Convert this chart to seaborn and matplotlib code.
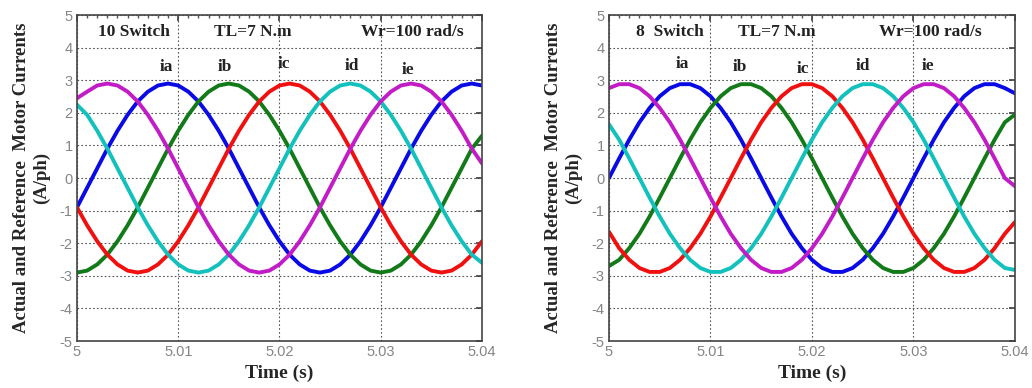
import matplotlib
matplotlib.use("Agg")
import matplotlib.pyplot as plt
import seaborn as sns
import pandas as pd
from matplotlib.ticker import MultipleLocator

# ---------------- data (1 ms samples) ----------------
time = [5.000 + 0.001 * i for i in range(41)]

# 10 switch panel
l_ia = [-0.90, -0.30, 0.30, 0.90, 1.45, 1.94, 2.35, 2.65, 2.84, 2.90, 2.84, 2.65, 2.35, 1.94,
        1.45, 0.90, 0.30, -0.30, -0.90, -1.45, -1.94, -2.35, -2.65, -2.84, -2.90, -2.84, -2.65,
        -2.35, -1.94, -1.45, -0.90, -0.30, 0.30, 0.90, 1.45, 1.94, 2.35, 2.65, 2.84, 2.90, 2.84]
l_ib = [-2.90, -2.84, -2.65, -2.35, -1.94, -1.45, -0.90, -0.30, 0.30, 0.90, 1.45, 1.94, 2.35,
        2.65, 2.84, 2.90, 2.84, 2.65, 2.35, 1.94, 1.45, 0.90, 0.30, -0.30, -0.90, -1.45, -1.94,
        -2.35, -2.65, -2.84, -2.90, -2.84, -2.65, -2.35, -1.94, -1.45, -0.90, -0.30, 0.30, 0.90, 1.30]
l_ic = [-0.90, -1.45, -1.94, -2.35, -2.65, -2.84, -2.90, -2.84, -2.65, -2.35, -1.94, -1.45,
        -0.90, -0.30, 0.30, 0.90, 1.45, 1.94, 2.35, 2.65, 2.84, 2.90, 2.84, 2.65, 2.35, 1.94, 1.45,
        0.90, 0.30, -0.30, -0.90, -1.45, -1.94, -2.35, -2.65, -2.84, -2.90, -2.84, -2.65, -2.35, -1.94]
l_id = [2.25, 1.94, 1.45, 0.90, 0.30, -0.30, -0.90, -1.45, -1.94, -2.35, -2.65, -2.84, -2.90,
        -2.84, -2.65, -2.35, -1.94, -1.45, -0.90, -0.30, 0.30, 0.90, 1.45, 1.94, 2.35, 2.65, 2.84,
        2.90, 2.84, 2.65, 2.35, 1.94, 1.45, 0.90, 0.30, -0.30, -0.90, -1.45, -1.94, -2.35, -2.60]
l_ie = [2.45, 2.65, 2.84, 2.90, 2.84, 2.65, 2.35, 1.94, 1.45, 0.90, 0.30, -0.30, -0.90, -1.45,
        -1.94, -2.35, -2.65, -2.84, -2.90, -2.84, -2.65, -2.35, -1.94, -1.45, -0.90, -0.30, 0.30,
        0.90, 1.45, 1.94, 2.35, 2.65, 2.84, 2.90, 2.84, 2.65, 2.35, 1.94, 1.45, 0.90, 0.45]

# 8 switch panel
r_ia = [0.00, 0.60, 1.18, 1.71, 2.15, 2.51, 2.76, 2.88, 2.88, 2.76, 2.51, 2.15, 1.71, 1.18,
        0.60, 0.00, -0.60, -1.18, -1.71, -2.15, -2.51, -2.76, -2.88, -2.88, -2.76, -2.51, -2.15,
        -1.71, -1.18, -0.60, 0.00, 0.60, 1.18, 1.71, 2.15, 2.51, 2.76, 2.88, 2.88, 2.76, 2.60]
r_ib = [-2.70, -2.51, -2.15, -1.71, -1.18, -0.60, 0.00, 0.60, 1.18, 1.71, 2.15, 2.51, 2.76,
        2.88, 2.88, 2.76, 2.51, 2.15, 1.71, 1.18, 0.60, 0.00, -0.60, -1.18, -1.71, -2.15, -2.51,
        -2.76, -2.88, -2.88, -2.76, -2.51, -2.15, -1.71, -1.18, -0.60, 0.00, 0.60, 1.18, 1.71, 1.95]
r_ic = [-1.65, -2.15, -2.51, -2.76, -2.88, -2.88, -2.76, -2.51, -2.15, -1.71, -1.18, -0.60,
        0.00, 0.60, 1.18, 1.71, 2.15, 2.51, 2.76, 2.88, 2.88, 2.76, 2.51, 2.15, 1.71, 1.18, 0.60,
        0.00, -0.60, -1.18, -1.71, -2.15, -2.51, -2.76, -2.88, -2.88, -2.76, -2.51, -2.15, -1.71, -1.35]
r_id = [1.65, 1.18, 0.60, 0.00, -0.60, -1.18, -1.71, -2.15, -2.51, -2.76, -2.88, -2.88, -2.76,
        -2.51, -2.15, -1.71, -1.18, -0.60, 0.00, 0.60, 1.18, 1.71, 2.15, 2.51, 2.76, 2.88, 2.88,
        2.76, 2.51, 2.15, 1.71, 1.18, 0.60, 0.00, -0.60, -1.18, -1.71, -2.15, -2.51, -2.76, -2.82]
r_ie = [2.76, 2.88, 2.88, 2.76, 2.51, 2.15, 1.71, 1.18, 0.60, 0.00, -0.60, -1.18, -1.71, -2.15,
        -2.51, -2.76, -2.88, -2.88, -2.76, -2.51, -2.15, -1.71, -1.18, -0.60, 0.00, 0.60, 1.18,
        1.71, 2.15, 2.51, 2.76, 2.88, 2.88, 2.76, 2.51, 2.15, 1.71, 1.18, 0.60, 0.00, -0.25]

phase_names = ["ia", "ib", "ic", "id", "ie"]
phase_colors = ["#0a0ae6", "#127a18", "#f01010", "#12c0bc", "#c21cc6"]

panel_titles = ["10 Switch", "8  Switch"]
load_text = "TL=7 N.m"
speed_text = "Wr=100 rad/s"
x_ticks = [5, 5.01, 5.02, 5.03, 5.04]
x_tick_labels = ["5", "5.01", "5.02", "5.03", "5.04"]
y_ticks = [-5, -4, -3, -2, -1, 0, 1, 2, 3, 4, 5]

# label positions (time, value) for the phase tags
left_tag_pos = [(5.0088, 3.4), (5.0146, 3.4), (5.0204, 3.5), (5.0272, 3.45), (5.0327, 3.3)]
right_tag_pos = [(5.0072, 3.5), (5.0129, 3.4), (5.0191, 3.35), (5.0250, 3.45), (5.0314, 3.45)]
left_head_pos = [(5.0056, 4.48), (5.0174, 4.48), (5.0331, 4.48)]
right_head_pos = [(5.0060, 4.48), (5.0165, 4.48), (5.0317, 4.48)]

# ---------------- drawing ----------------
sns.set_theme(style="white")
plt.rcParams["font.family"] = ["Liberation Serif", "DejaVu Serif"]

fig = plt.figure(figsize=(10.32, 3.88), dpi=100)
ax_l = fig.add_axes([0.0746, 0.1211, 0.3924, 0.840])
ax_r = fig.add_axes([0.5901, 0.1211, 0.3934, 0.840])

panels = [
    (ax_l, [l_ia, l_ib, l_ic, l_id, l_ie], left_tag_pos, left_head_pos, panel_titles[0]),
    (ax_r, [r_ia, r_ib, r_ic, r_id, r_ie], right_tag_pos, right_head_pos, panel_titles[1]),
]

for ax, series, tag_pos, head_pos, title in panels:
    df = pd.DataFrame({"time": time})
    for name, vals in zip(phase_names, series):
        df[name] = vals
    long = df.melt(id_vars="time", var_name="phase", value_name="current")
    sns.lineplot(data=long, x="time", y="current", hue="phase",
                 palette=dict(zip(phase_names, phase_colors)),
                 linewidth=2.8, ax=ax, legend=False)

    ax.set_xlim(5.0, 5.04)
    ax.set_ylim(-5, 5)
    ax.set_xticks(x_ticks)
    ax.set_xticklabels(x_tick_labels)
    ax.set_yticks(y_ticks)
    ax.set_yticklabels([str(v) for v in y_ticks])
    ax.xaxis.set_minor_locator(MultipleLocator(0.001))
    ax.tick_params(axis="both", which="major", direction="in", length=4,
                   labelsize=10.5, labelcolor="#858585", color="#444444",
                   top=True, right=True, pad=3)
    ax.tick_params(axis="both", which="minor", direction="in", length=2.5,
                   color="#555555", top=True, right=True)
    for lab in ax.get_xticklabels() + ax.get_yticklabels():
        lab.set_fontfamily("Liberation Sans")
    ax.grid(True, which="major", linestyle=(0, (1.5, 2.0)), color="#555555", linewidth=0.8)
    for sp in ax.spines.values():
        sp.set_visible(True)
        sp.set_color("#444444")
        sp.set_linewidth(1.2)

    ax.set_xlabel("Time (s)", fontsize=14, fontweight="bold")
    ax.xaxis.set_label_coords(0.5, -0.073)
    ax.set_ylabel("Actual and Reference  Motor Currents\n(A/ph)", fontsize=13.5,
                  fontweight="bold", linespacing=1.25)
    ax.yaxis.set_label_coords(-0.066, 0.5)

    heads = [title, load_text, speed_text]
    for txt, (hx, hy) in zip(heads, head_pos):
        ax.text(hx, hy, txt, ha="center", va="center", fontsize=12.5,
                fontweight="bold", color="#222222")
    for name, (tx, ty) in zip(phase_names, tag_pos):
        ax.text(tx, ty, name, ha="center", va="center", fontsize=12.5,
                fontweight="bold", color="#222222")

fig.savefig("out.png", dpi=100)
